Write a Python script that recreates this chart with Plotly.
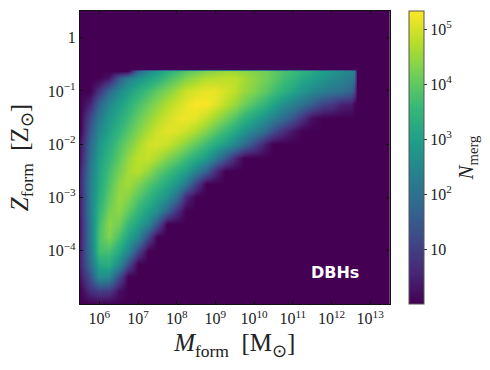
import plotly.graph_objects as go

log_mass = [5.5,5.75,6,6.25,6.5,6.75,7,7.25,7.5,7.75,8,8.25,8.5,8.75,9,9.25,9.5,9.75,10,10.25,10.5,10.75,11,11.25,11.5,11.75,12,12.25,12.5,12.58,12.66,13.5]
log_z = [-5,-4.75,-4.5,-4.25,-4,-3.75,-3.5,-3.25,-3,-2.75,-2.5,-2.25,-2,-1.75,-1.5,-1.25,-1,-0.75,-0.62,-0.58,0.5]

r_500 = []
r_475 = [0,.7,1.0,.9,.2]
r_450 = [.3,1.3,2.6,2.5,1.2,0]
r_425 = [.5,1.9,3.2,3.3,2.6,1.3,0]
r_400 = [.5,2.1,3.7,3.75,3.2,2.5,1.2,0]
r_375 = [.4,2.2,3.8,4.3,3.75,3.1,2.5,1.2,0]
r_350 = [.4,2.2,3.7,4.4,4.15,3.55,3.05,2.5,1.4,0]
r_325 = [.5,2.3,3.5,4.2,4.4,4.0,3.5,3.0,2.6,1.7,.7]
r_300 = [.5,2.3,3.3,4.0,4.5,4.35,3.9,3.5,3.1,2.7,1.9,.6,0]
r_275 = [.6,2.3,3.2,3.85,4.4,4.6,4.3,3.9,3.6,3.2,2.8,2.1,1,0]
r_250 = [.5,2.2,3.1,3.7,4.2,4.6,4.75,4.45,4.05,3.7,3.35,3,2.4,1.7,.7]
r_225 = [.3,2,3,3.5,4,4.45,4.8,4.85,4.65,4.3,4,3.65,3.3,2.9,2.3,1.5,.6]
r_200 = [.3,1.8,2.8,3.3,3.8,4.2,4.6,4.95,5.0,4.9,4.65,4.35,4,3.65,3.3,2.95,2.5,1.9,1.2,.5]
r_175 = [0,1.5,2.5,3.05,3.5,3.9,4.3,4.65,4.95,5.1,5.05,4.9,4.65,4.3,3.95,3.6,3.2,2.8,2.4,1.9,1.3,.7,.3]
r_150 = [0,1.2,2.2,2.85,3.25,3.65,4.05,4.4,4.7,4.95,5.15,5.2,5.1,4.85,4.55,4.2,3.85,3.45,3.1,2.75,2.35,1.9,1.4,.8,.2]
r_125 = [0,.5,1.7,2.5,2.95,3.35,3.75,4.1,4.4,4.7,4.95,5.15,5.3,5.3,5.1,4.8,4.5,4.15,3.8,3.5,3.1,2.7,2.35,2,1.6,1.1,.9,.5,.4,.1]
r_100 = [0,0,.8,1.8,2.5,2.95,3.35,3.7,4,4.3,4.6,4.9,5.05,5.15,5.15,5,4.8,4.5,4.3,4,3.7,3.4,3.1,2.8,2.5,2.3,2.1,2,1.7,1.3]
r_075 = [0,0,0,.3,1.5,2.3,2.7,3,3.3,3.7,4,4.3,4.5,4.7,4.75,4.8,4.8,4.6,4.4,4.2,4,3.7,3.5,3.2,3,2.8,2.6,2.4,2.2,2]
r_062 = [0,0,0,0,0,0,1.8,2.5,2.9,3.3,3.6,3.9,4.1,4.3,4.4,4.5,4.5,4.4,4.3,4.2,4,3.8,3.6,3.4,3.2,3,2.8,2.6,2.4,2.2]
r_058 = []
r_top = []
rows = [r_500,r_475,r_450,r_425,r_400,r_375,r_350,r_325,r_300,r_275,r_250,r_225,r_200,r_175,r_150,r_125,r_100,r_075,r_062,r_058,r_top]
log_n = [list(r) + [0] * (len(log_mass) - len(r)) for r in rows]

x_ticks = [6,7,8,9,10,11,12,13]
x_labels = [f"10<sup>{e}</sup>" for e in x_ticks]
y_ticks = [0,-1,-2,-3,-4]
y_labels = ["1","10<sup>−1</sup>","10<sup>−2</sup>","10<sup>−3</sup>","10<sup>−4</sup>"]
c_ticks = [1,2,3,4,5]
c_labels = ["10","10<sup>2</sup>","10<sup>3</sup>","10<sup>4</sup>","10<sup>5</sup>"]

W, H = 490, 370
SERIF = "Liberation Serif"
L, R, T, B = 80, 389.5, 11, 304

fig = go.Figure(go.Heatmap(
    x=log_mass, y=log_z, z=log_n, zmin=0, zmax=5.33, zsmooth="best",
    colorscale="Viridis", hoverinfo="skip",
    colorbar=dict(
        x=408.5/W, xanchor="left", xref="paper", y=1-B/H, yanchor="bottom", yref="paper",
        len=(B-T), lenmode="pixels", thickness=14.5, thicknessmode="pixels",
        outlinecolor="#555", outlinewidth=1, xpad=0, ypad=0,
        tickvals=c_ticks, ticktext=c_labels, ticks="outside", ticklen=3, tickcolor="#333",
        tickfont=dict(family=SERIF, size=16, color="#222"),
        title=dict(text="<i>N</i><sub>merg</sub>", side="right", font=dict(family=SERIF, size=21, color="#222")),
    ),
))
axis = dict(ticks="inside", ticklen=3, tickwidth=1, tickcolor="#111", mirror="ticks",
            showline=True, linecolor="#111", linewidth=1.2, showgrid=False, zeroline=False,
            tickfont=dict(family=SERIF, size=16, color="#222"))
fig.update_xaxes(**axis, range=[5.5,13.5], tickmode="array", tickvals=x_ticks, ticktext=x_labels,
                 domain=[L/W, R/W],
                 title=dict(text="<i>M</i><sub>form</sub>  [M<sub>⊙</sub>]", standoff=7,
                            font=dict(family=SERIF, size=25, color="#222")))
fig.update_yaxes(**axis, range=[-5,0.5], tickmode="array", tickvals=y_ticks, ticktext=y_labels,
                 domain=[1-B/H, 1-T/H],
                 title=dict(text="<i>Z</i><sub>form</sub>  [Z<sub>⊙</sub>]", standoff=12,
                            font=dict(family=SERIF, size=25, color="#222")))
fig.add_annotation(xref="paper", yref="paper", x=335/W, y=1-272/H, xanchor="center", yanchor="middle",
                   showarrow=False, text="<b>DBHs</b>",
                   font=dict(family="DejaVu Sans", size=16, color="white"))
fig.update_layout(width=W, height=H, margin=dict(l=0,r=0,t=0,b=0), plot_bgcolor="#440154",
                  paper_bgcolor="white")
fig.write_html("out.html", config=dict(displayModeBar=False),
               post_script="document.body.style.margin='0';document.documentElement.style.overflow='hidden';")
